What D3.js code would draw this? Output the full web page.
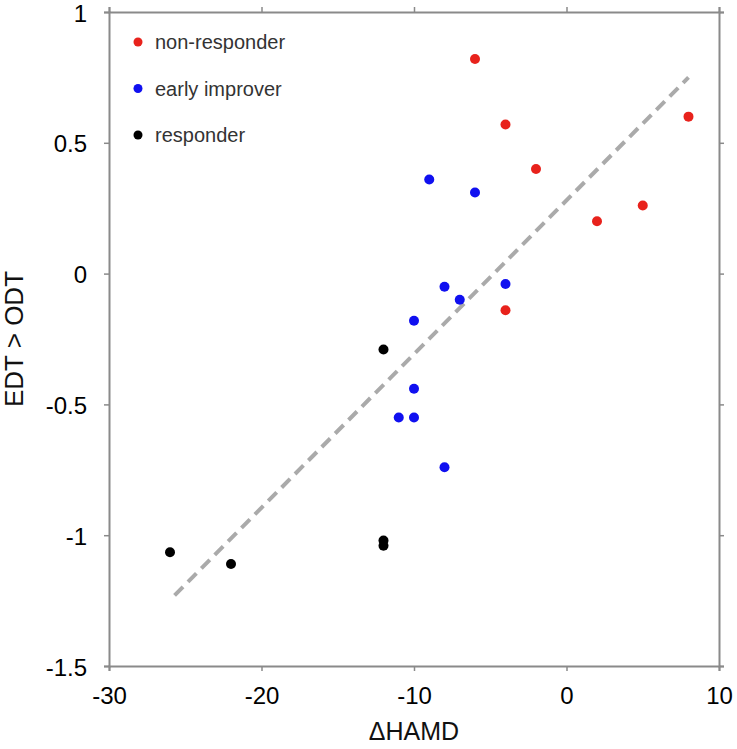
<!DOCTYPE html>
<html><head><meta charset="utf-8">
<script src="https://cdn.jsdelivr.net/npm/d3@7"></script>
<style>body{margin:0;background:#fff}svg{display:block}</style>
</head><body>
<script>
const groups = ["non-responder", "early improver", "responder"];
const groupColors = ["#e8221c", "#1010f0", "#000000"];
const nonResponderX = [-6, -4, -2, 8, 2, 5, -4];
const nonResponderY = [0.82, 0.57, 0.40, 0.60, 0.20, 0.26, -0.14];
const earlyImproverX = [-9, -6, -8, -7, -4, -10, -10, -11, -10, -8];
const earlyImproverY = [0.36, 0.31, -0.05, -0.10, -0.04, -0.18, -0.44, -0.55, -0.55, -0.74];
const responderX = [-12, -26, -22, -12, -12];
const responderY = [-0.29, -1.065, -1.11, -1.02, -1.04];
const fitX = [-25.7, 8.0];
const fitY = [-1.23, 0.75];
const xTicks = [-30, -20, -10, 0, 10];
const yTicks = [-1.5, -1, -0.5, 0, 0.5, 1];

const W = 737, H = 749;
const svg = d3.select("body").append("svg").attr("width", W).attr("height", H);
const x = d3.scaleLinear().domain([-30, 10]).range([109, 719]);
const y = d3.scaleLinear().domain([-1.5, 1]).range([666, 12]);
const axisColor = "#8a8a8a";
const font = "'Liberation Sans', Arial, sans-serif";
const fmt = d => String(d);

function styleAxis(g, showLabels) {
  g.select(".domain").attr("stroke", axisColor).attr("stroke-width", 2);
  g.selectAll(".tick line").attr("stroke", axisColor).attr("stroke-width", 1.5);
  g.selectAll(".tick text").attr("font-family", font).attr("font-size", 24).attr("fill", "#000")
    .style("display", showLabels ? null : "none");
}
const xb = svg.append("g").attr("transform", `translate(0,${y(-1.5)})`)
  .call(d3.axisBottom(x).tickValues(xTicks).tickFormat(fmt).tickSizeOuter(0).tickSize(5).tickPadding(16));
styleAxis(xb, true);
const xt = svg.append("g").attr("transform", `translate(0,${y(1)})`)
  .call(d3.axisTop(x).tickValues(xTicks).tickSizeOuter(0).tickSize(5));
styleAxis(xt, false);
const yl = svg.append("g").attr("transform", `translate(${x(-30)},0)`)
  .call(d3.axisLeft(y).tickValues(yTicks).tickFormat(fmt).tickSizeOuter(0).tickSize(5).tickPadding(17));
styleAxis(yl, true);
yl.selectAll(".tick text").attr("dy", "0.38em");
const yr = svg.append("g").attr("transform", `translate(${x(10)},0)`)
  .call(d3.axisRight(y).tickValues(yTicks).tickSizeOuter(0).tickSize(5));
styleAxis(yr, false);

// regression line
svg.append("line")
  .attr("x1", x(fitX[0])).attr("y1", y(fitY[0]))
  .attr("x2", x(fitX[1])).attr("y2", y(fitY[1]))
  .attr("stroke", "#aaaaaa").attr("stroke-width", 4).attr("stroke-dasharray", "12,7");

const series = [
  {xs: nonResponderX, ys: nonResponderY, c: groupColors[0]},
  {xs: earlyImproverX, ys: earlyImproverY, c: groupColors[1]},
  {xs: responderX, ys: responderY, c: groupColors[2]}
];
series.forEach(s => {
  svg.append("g").selectAll("circle").data(s.xs.map((v, i) => [v, s.ys[i]])).join("circle")
    .attr("cx", d => x(d[0])).attr("cy", d => y(d[1])).attr("r", 5).attr("fill", s.c);
});

// legend
const lg = svg.append("g");
groups.forEach((g, i) => {
  const yy = 42 + i * 46.5;
  lg.append("circle").attr("cx", 138).attr("cy", yy).attr("r", 4.5).attr("fill", groupColors[i]);
  lg.append("text").attr("x", 155).attr("y", yy).attr("dy", "0.35em")
    .attr("font-family", font).attr("font-size", 20).attr("fill", "#333").text(g);
});

// axis titles
svg.append("text").attr("x", (x(-30) + x(10)) / 2).attr("y", 740).attr("text-anchor", "middle")
  .attr("font-family", font).attr("font-size", 25).attr("fill", "#111").text("\u0394HAMD");
svg.append("text").attr("transform", `translate(23,${(y(-1.5) + y(1)) / 2}) rotate(-90)`)
  .attr("text-anchor", "middle").attr("font-family", font).attr("font-size", 26).attr("fill", "#111").text("EDT > ODT");
</script>
</body></html>
